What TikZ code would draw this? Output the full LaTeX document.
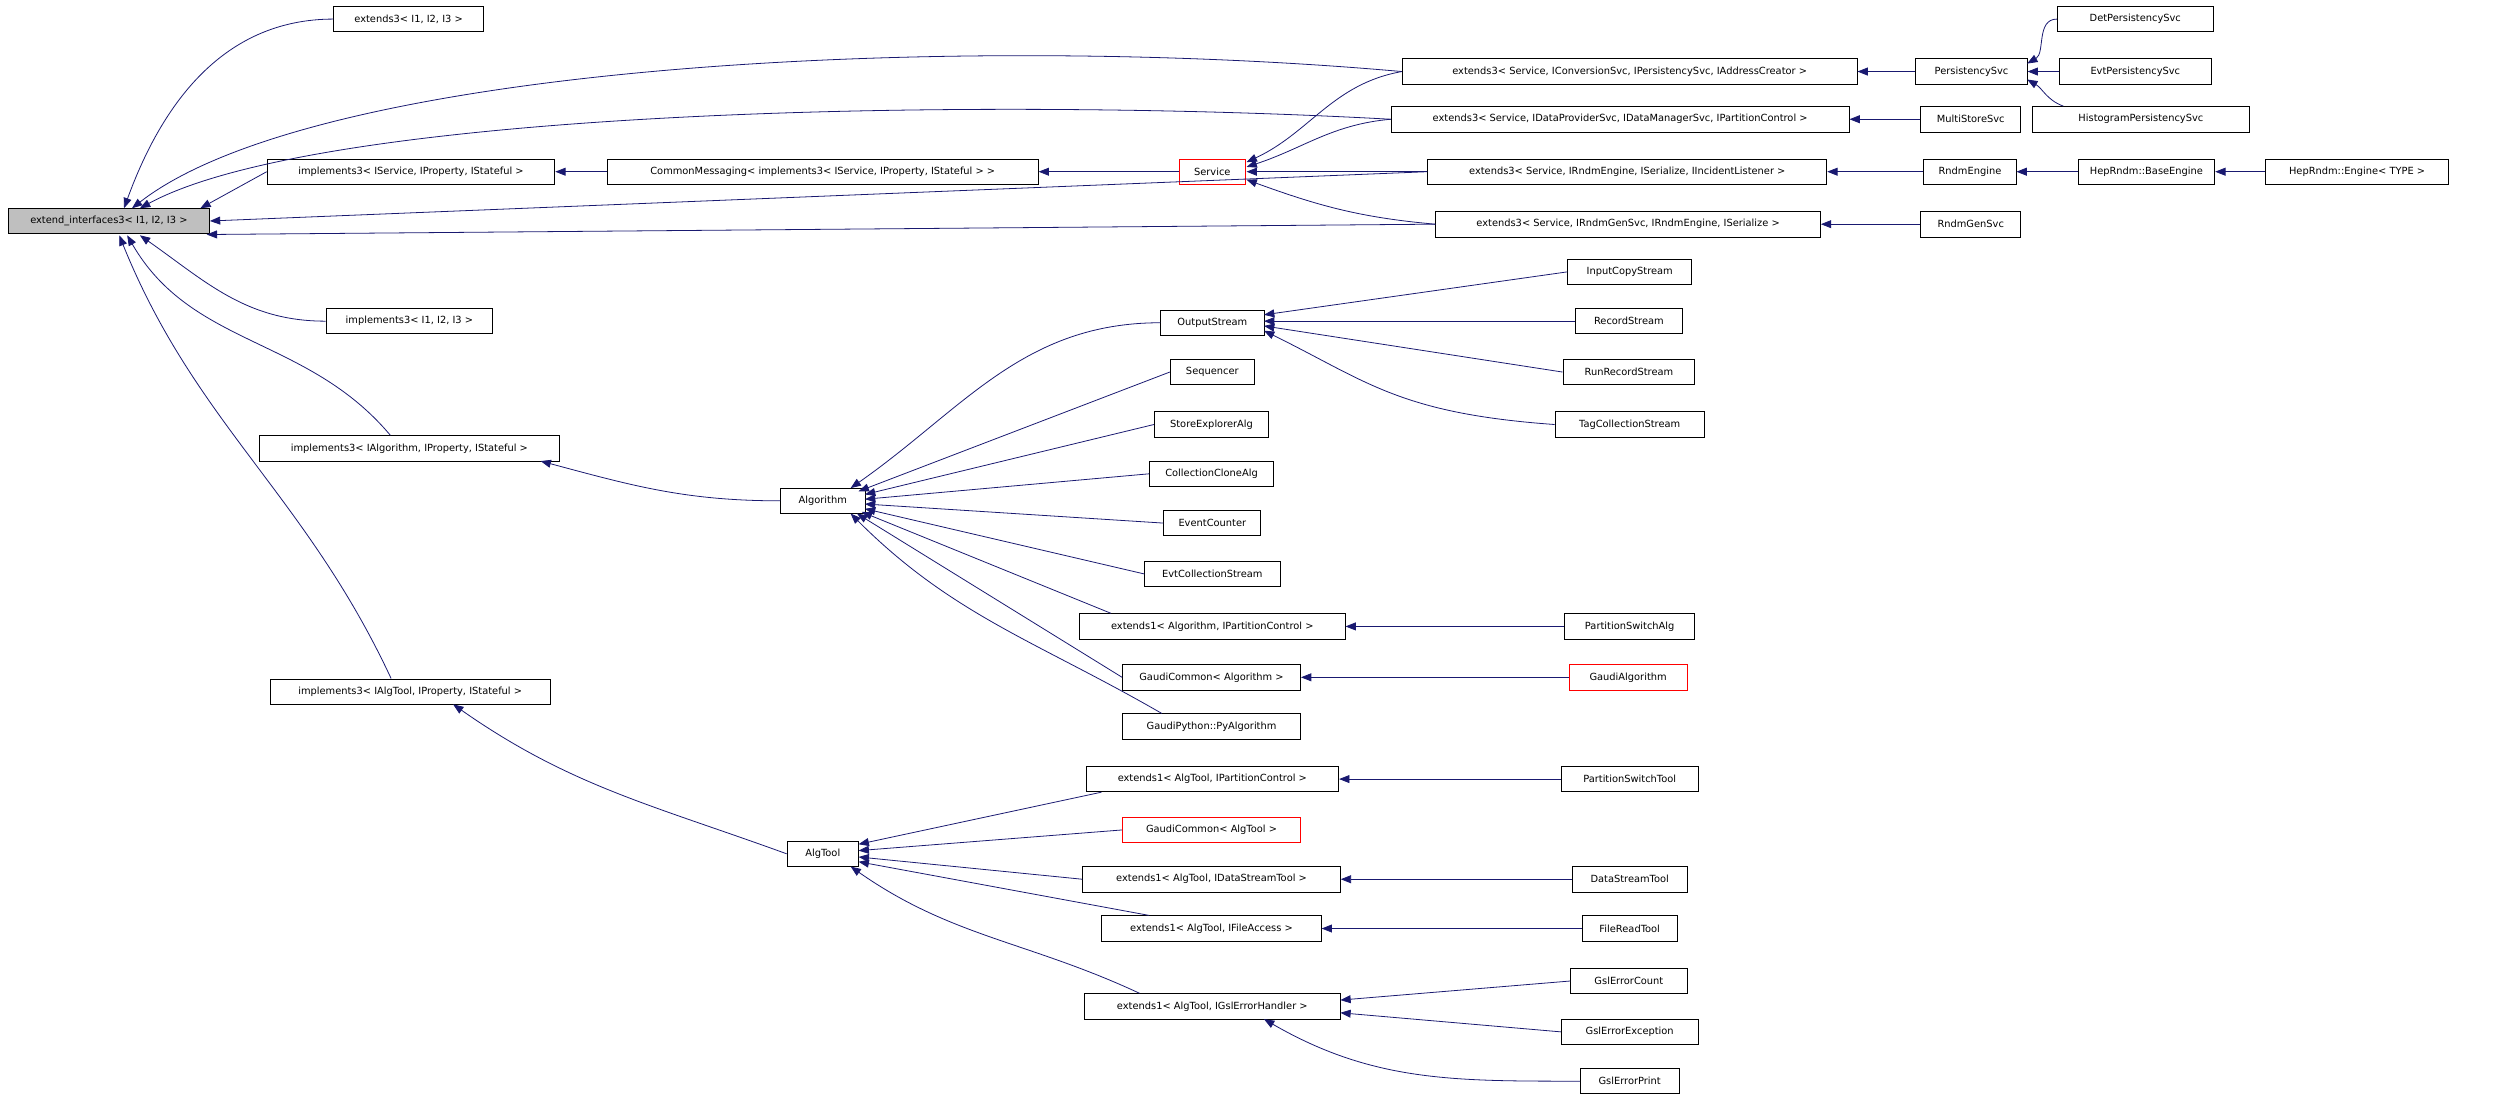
\documentclass[tikz,border=0pt]{standalone}
\usepackage{fontspec}
\setmainfont{DejaVu Sans}
\usetikzlibrary{arrows.meta}
\definecolor{navy}{RGB}{25,25,112}
\definecolor{boxgray}{RGB}{191,191,191}
\newcommand{\nd}[6][]{\node[box,#1,minimum width=#4-#3] (#2) at ({(#3+#4)/2},#5) {#6};}
\begin{document}
\begin{tikzpicture}[x=1pt,y=-1pt,
  box/.style={draw=black,line width=0.5pt,fill=white,minimum height=16,inner sep=0pt,font=\fontsize{6.2}{7}\selectfont},
  red/.style={draw=red},
  e/.style={navy,line width=0.5pt,-{Triangle[length=6.5pt,width=5pt]}}]
\useasboundingbox (0,0) rectangle (1568,693);
\nd[fill=boxgray]{ei}{5}{132}{139}{extend\_interfaces3< I1, I2, I3 >}
\nd{exI}{210}{304}{12}{extends3< I1, I2, I3 >}
\nd{imS}{168}{349}{108}{implements3< IService, IProperty, IStateful >}
\nd{cm}{382}{653}{108}{CommonMessaging< implements3< IService, IProperty, IStateful > >}
\nd[red]{svc}{742}{783}{108}{Service}
\nd{exC}{882}{1168}{45}{extends3< Service, IConversionSvc, IPersistencySvc, IAddressCreator >}
\nd{exD}{875}{1163}{75}{extends3< Service, IDataProviderSvc, IDataManagerSvc, IPartitionControl >}
\nd{exR}{898}{1149}{108}{extends3< Service, IRndmEngine, ISerialize, IIncidentListener >}
\nd{exG}{903}{1145}{141}{extends3< Service, IRndmGenSvc, IRndmEngine, ISerialize >}
\nd{ps}{1205}{1275}{45}{PersistencySvc}
\nd{ms}{1208}{1271}{75}{MultiStoreSvc}
\nd{re}{1210}{1268}{108}{RndmEngine}
\nd{rg}{1208}{1271}{141}{RndmGenSvc}
\nd{dps}{1294}{1392}{12}{DetPersistencySvc}
\nd{eps}{1295}{1391}{45}{EvtPersistencySvc}
\nd{hps}{1278}{1415}{75}{HistogramPersistencySvc}
\nd{be}{1307}{1393}{108}{HepRndm::BaseEngine}
\nd{en}{1425}{1540}{108}{HepRndm::Engine< TYPE >}
\nd{imI}{205}{310}{202}{implements3< I1, I2, I3 >}
\nd{imA}{163}{352}{282}{implements3< IAlgorithm, IProperty, IStateful >}
\nd{imT}{170}{346}{435}{implements3< IAlgTool, IProperty, IStateful >}
\nd{alg}{491}{544}{315}{Algorithm}
\nd{at}{495}{540}{537}{AlgTool}
\nd{os}{730}{795}{203}{OutputStream}
\nd{seq}{736}{789}{234}{Sequencer}
\nd{sea}{726}{798}{267}{StoreExplorerAlg}
\nd{cca}{723}{801}{298}{CollectionCloneAlg}
\nd{ec}{732}{793}{329}{EventCounter}
\nd{ecs}{720}{805}{361}{EvtCollectionStream}
\nd{e1a}{679}{846}{394}{extends1< Algorithm, IPartitionControl >}
\nd{gca}{706}{818}{426}{GaudiCommon< Algorithm >}
\nd{pya}{706}{818}{457}{GaudiPython::PyAlgorithm}
\nd{ics}{986}{1064}{171}{InputCopyStream}
\nd{rs}{991}{1058}{202}{RecordStream}
\nd{rrs}{983}{1066}{234}{RunRecordStream}
\nd{tcs}{978}{1072}{267}{TagCollectionStream}
\nd{psa}{984}{1066}{394}{PartitionSwitchAlg}
\nd[red]{ga}{987}{1061}{426}{GaudiAlgorithm}
\nd{e1p}{683}{842}{490}{extends1< AlgTool, IPartitionControl >}
\nd[red]{gct}{706}{818}{522}{GaudiCommon< AlgTool >}
\nd{e1d}{681}{843}{553}{extends1< AlgTool, IDataStreamTool >}
\nd{e1f}{693}{831}{584}{extends1< AlgTool, IFileAccess >}
\nd{e1g}{682}{843}{633}{extends1< AlgTool, IGslErrorHandler >}
\nd{pst}{982}{1068}{490}{PartitionSwitchTool}
\nd{dst}{989}{1061}{553}{DataStreamTool}
\nd{frt}{995}{1055}{584}{FileReadTool}
\nd{gec}{988}{1061}{617}{GslErrorCount}
\nd{gee}{982}{1068}{649}{GslErrorException}
\nd{gep}{994}{1056}{680}{GslErrorPrint}
% into extend_interfaces3
\draw[e] (exI.west) to[out=180,in=70] (78,131);
\draw[e] (exC.west) .. controls (600,20) and (200,40) .. (83,131);
\draw[e] (exD.west) .. controls (600,60) and (200,70) .. (88,131);
\draw[e] (imS.west) -- (126,131);
\draw[e] (exR.west) -- (132,139);
\draw[e] (exG.west) -- (130,147.5);
\draw[e] (imI.west) to[out=180,in=-35] (88,148);
\draw[e] (imA.north)++(-12,0) to[out=130,in=-60] (80,148);
\draw[e] (imT.north)++(-12,0) to[out=115,in=-68] (75,148);
% service
\draw[e] (svc.west) -- (cm.east);
\draw[e] (cm.west) -- (imS.east);
\draw[e] (exC.west) to[out=190,in=25] (784,102);
\draw[e] (exD.west) to[out=185,in=18] (784,105);
\draw[e] (exR.west) -- (784,108);
\draw[e] (exG.west) to[out=175,in=-20] (784,113);
\draw[e] (ps.west) -- (exC.east);
\draw[e] (ms.west) -- (exD.east);
\draw[e] (re.west) -- (exR.east);
\draw[e] (rg.west) -- (exG.east);
\draw[e] (dps.west) to[out=180,in=30] (1275,40);
\draw[e] (eps.west) -- (ps.east);
\draw[e] (hps.north west)++(20,0) to[out=160,in=-30] (1275,50);
\draw[e] (be.west) -- (re.east);
\draw[e] (en.west) -- (be.east);
% algorithm
\draw[e] (alg.west) to[out=180,in=-15] (340,290);
\draw[e] (at.west) to[out=160,in=-35] (285,443);
\draw[e] (os.west) to[out=180,in=35] (535,307);
\draw[e] (seq.west) -- (540,309);
\draw[e] (sea.west) -- (544,311);
\draw[e] (cca.west) -- (544,314);
\draw[e] (ec.west) -- (544,317);
\draw[e] (ecs.west) -- (544,320);
\draw[e] (e1a.north west)++(20,0) -- (542,322);
\draw[e] (gca.west) -- (539,323);
\draw[e] (pya.north west)++(25,0) to[out=150,in=-45] (535,323);
\draw[e] (ics.west) -- (795,198);
\draw[e] (rs.west) -- (795,202);
\draw[e] (rrs.west) -- (795,205);
\draw[e] (tcs.west) .. controls (880,260) and (860,240) .. (795,208);
\draw[e] (psa.west) -- (e1a.east);
\draw[e] (ga.west) -- (gca.east);
% algtool
\draw[e] (e1p.south west)++(10,0) -- (540,531);
\draw[e] (gct.west) -- (540,535);
\draw[e] (e1d.west) -- (540,539);
\draw[e] (e1f.north west)++(30,0) -- (540,542);
\draw[e] (e1g.north west)++(35,0) to[out=155,in=-35] (535,545);
\draw[e] (pst.west) -- (e1p.east);
\draw[e] (dst.west) -- (e1d.east);
\draw[e] (frt.west) -- (e1f.east);
\draw[e] (gec.west) -- (843,629);
\draw[e] (gee.west) -- (843,637);
\draw[e] (gep.west) to[out=180,in=-30] (795,641);
\end{tikzpicture}
\end{document}
